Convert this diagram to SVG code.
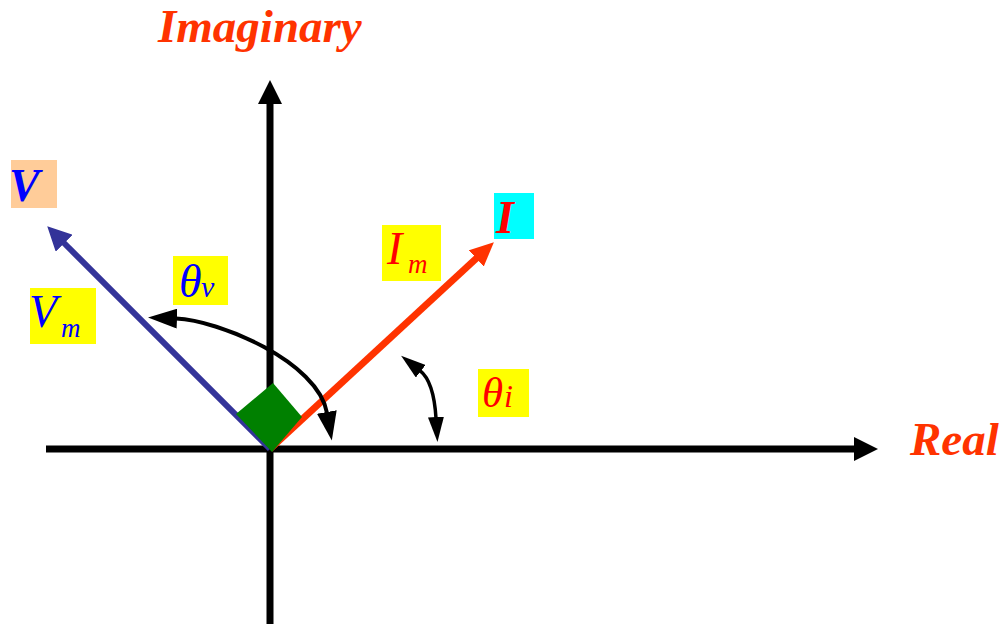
<svg xmlns="http://www.w3.org/2000/svg" width="1006" height="624" viewBox="0 0 1006 624">
<style>
.t{font-family:"Liberation Serif","Times New Roman",serif;font-style:italic}
.b{font-weight:bold}
.ax{stroke:#000;stroke-width:7;fill:none}
.arc{stroke:#000;fill:none}
</style>
<defs>
<marker id="hk" markerUnits="userSpaceOnUse" markerWidth="24" markerHeight="24" viewBox="0 0 24 24" refX="1" refY="12" orient="auto-start-reverse"><path d="M0,0 L24,12 L0,24 z" fill="#000"/></marker>
<marker id="hb" markerUnits="userSpaceOnUse" markerWidth="24" markerHeight="24" viewBox="0 0 24 24" refX="1" refY="12" orient="auto-start-reverse"><path d="M0,0 L24,12 L0,24 z" fill="#333399"/></marker>
<marker id="hr" markerUnits="userSpaceOnUse" markerWidth="24" markerHeight="22" viewBox="0 0 24 22" refX="1" refY="11" orient="auto-start-reverse"><path d="M0,0 L24,11 L0,22 z" fill="#FF3300"/></marker>
<marker id="aL" markerUnits="userSpaceOnUse" markerWidth="29" markerHeight="20" viewBox="0 0 29 20" refX="1" refY="10" orient="auto-start-reverse"><path d="M0,0 L29,10 L0,20 z" fill="#000"/></marker>
<marker id="aS" markerUnits="userSpaceOnUse" markerWidth="25" markerHeight="16" viewBox="0 0 25 16" refX="1" refY="8" orient="auto-start-reverse"><path d="M0,0 L25,8 L0,16 z" fill="#000"/></marker>
</defs>
<rect width="1006" height="624" fill="#fff"/>
<g id="connectors">
<line class="ax" x1="46" y1="449" x2="855" y2="449" marker-end="url(#hk)"/>
<line class="ax" x1="270" y1="624" x2="270" y2="103" marker-end="url(#hk)"/>
<line x1="270" y1="449" x2="63.5" y2="242.5" stroke="#333399" stroke-width="6" marker-end="url(#hb)"/>
<line x1="270" y1="449" x2="477" y2="257.8" stroke="#FF3300" stroke-width="7" marker-end="url(#hr)"/>
<path class="arc" stroke-width="4" d="M327,413 C318,361.5 218.6,320.2 176,318.5" marker-start="url(#aL)" marker-end="url(#aL)"/>
<path class="arc" stroke-width="3.5" d="M436,418 C435,402 432,380 420,370.6" marker-start="url(#aS)" marker-end="url(#aS)"/>
</g>
<g id="origin">
<polygon points="273,383 302,417 272,452 236,414" fill="#008000"/>
</g>
<g id="imaginary-label">
<text class="t b" x="158" y="42" font-size="47" fill="#FF3300">Imaginary</text>
</g>
<g id="real-label">
<text class="t b" x="910" y="455" font-size="47" fill="#FF3300">Real</text>
</g>
<g id="V">
<rect x="11" y="160" width="46" height="48" fill="#FFCC99"/>
<text class="t b" x="9" y="201" font-size="46" fill="#0000FF">V</text>
</g>
<g id="I">
<rect x="494" y="193" width="40" height="46" fill="#00FFFF"/>
<text class="t b" x="496" y="233" font-size="46" fill="#FF0000">I</text>
</g>
<g id="Vm">
<rect x="30" y="288" width="66" height="56" fill="#FFFF00"/>
<text class="t" x="29" y="327" font-size="46" fill="#0000FF">V</text>
<text class="t" x="61" y="337" font-size="27" fill="#0000FF">m</text>
</g>
<g id="Im">
<rect x="382" y="225" width="59" height="56" fill="#FFFF00"/>
<text class="t" x="387" y="264" font-size="46" fill="#FF0000">I</text>
<text class="t" x="408" y="273" font-size="27" fill="#FF0000">m</text>
</g>
<g id="theta-v">
<rect x="173" y="256" width="55" height="49" fill="#FFFF00"/>
<text class="t" x="179" y="297" font-size="46" fill="#0000FF">θ</text>
<text class="t" x="201" y="297" font-size="30" fill="#0000FF">v</text>
</g>
<g id="theta-i">
<rect x="478" y="369" width="51" height="48" fill="#FFFF00"/>
<text class="t" x="482" y="407" font-size="43" fill="#FF0000">θ</text>
<text class="t" x="504" y="407" font-size="32" fill="#FF0000">i</text>
</g>
</svg>
